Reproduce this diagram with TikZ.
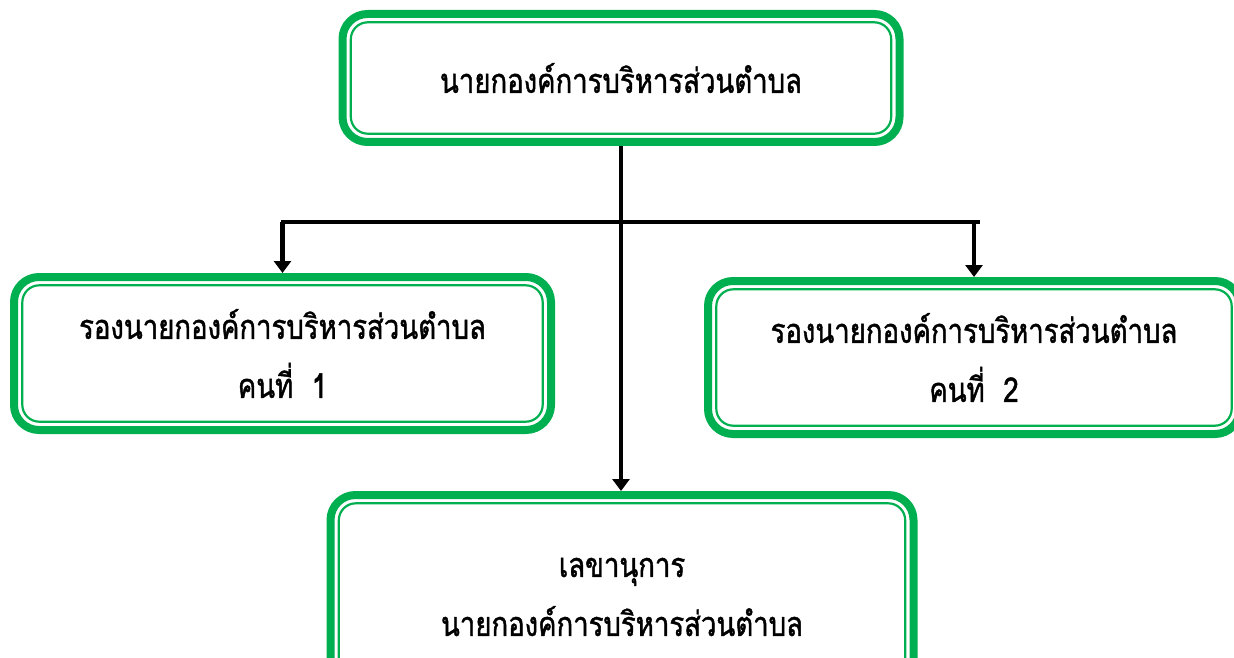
\documentclass[tikz,border=0pt]{standalone}
\usepackage{fontspec}
\newfontfamily\thaifont[Script=Thai,FakeStretch=0.81,FakeBold=1.3]{Loma}
\usetikzlibrary{arrows.meta}
\definecolor{offgreen}{RGB}{0,176,80}
\tikzset{
  orgbox/.style={draw=offgreen, line width=8pt, rounded corners=25pt, fill=white,
    inner sep=0pt, align=center, font=\thaifont\fontsize{34}{59}\selectfont},
  innerline/.style={draw=offgreen, line width=2.2pt, rounded corners=17pt},
  conn/.style={draw=black, line width=4.8pt},
  arr/.style={conn, -{Triangle[width=17pt,length=12pt]}},
}
\newcommand\innerframe[1]{\draw[innerline] ([shift={(12.3,12.3)}]#1.north west) rectangle ([shift={(-12.3,-12.3)}]#1.south east);}
\begin{document}
\begin{tikzpicture}[x=1pt,y=-1pt]
\useasboundingbox (0,0) rectangle (1234,658);
\clip (0,0) rectangle (1234,658);
\node[orgbox, minimum width=557pt, minimum height=128pt] (top) at (621,78) {นายกองค์การบริหารส่วนตำบล};
\node[orgbox, minimum width=537pt, minimum height=153pt] (left) at (282.5,353.5) {รองนายกองค์การบริหารส่วนตำบล\\คนที่~~1};
\node[orgbox, minimum width=532pt, minimum height=153pt] (right) at (974,357.5) {รองนายกองค์การบริหารส่วนตำบล\\คนที่~~2};
\node[orgbox, minimum width=583pt, minimum height=204pt] (bot) at (622,597) {เลขานุการ\\นายกองค์การบริหารส่วนตำบล};
\innerframe{top}
\innerframe{left}
\innerframe{right}
\innerframe{bot}
\coordinate (hl) at (281,222);
\coordinate (hr) at (980,222);
\draw[conn] (hl) -- (hr);
\draw[arr] (top.south) -- (top.south |- bot.north);
\draw[arr] (left.north |- hl) -- (left.north);
\draw[arr] (right.north |- hr) -- (right.north);
\end{tikzpicture}
\end{document}
